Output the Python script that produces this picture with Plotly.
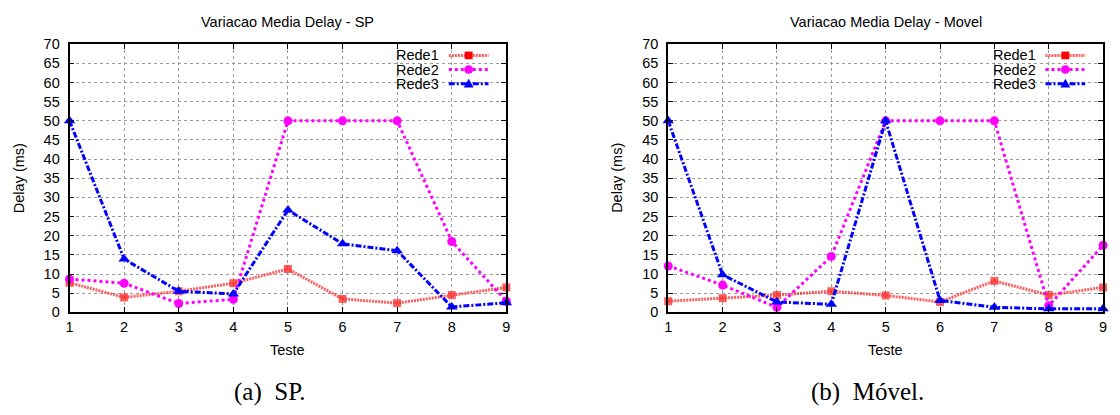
import plotly.graph_objects as go

# ---------------- data ----------------
teste = [1, 2, 3, 4, 5, 6, 7, 8, 9]

sp_rede1 = [7.7, 3.9, 5.5, 7.6, 11.3, 3.5, 2.4, 4.5, 6.5]
sp_rede2 = [8.7, 7.6, 2.3, 3.4, 50, 50, 50, 18.5, 2.9]
sp_rede3 = [50, 13.9, 5.5, 4.8, 26.7, 17.9, 16.1, 1.4, 2.5]

mov_rede1 = [2.9, 3.7, 4.5, 5.5, 4.4, 2.7, 8.2, 4.5, 6.5]
mov_rede2 = [12.1, 7.1, 1.3, 14.6, 50, 50, 50, 1.7, 17.5]
mov_rede3 = [50, 9.8, 2.7, 2.1, 50, 3.1, 1.3, 0.9, 0.9]

series_names = ["Rede1", "Rede2", "Rede3"]
y_ticks = list(range(0, 75, 5))
titles = ["Variacao Media Delay - SP", "Variacao Media Delay - Movel"]
captions = ["(a)\u00a0\u00a0SP.", "(b)\u00a0\u00a0Móvel."]

# ---------------- styling ----------------
W, H = 1120, 415
SANS = "Liberation Sans, Arial, Helvetica, sans-serif"
SERIF = "Liberation Serif, Times New Roman, serif"
FS = 14.5

styles = [
    dict(color="rgba(255,40,40,0.75)", dash="2px,1px", symbol="square", size=8),
    dict(color="#ff00ff", dash="3px,3px", symbol="circle", size=9),
    dict(color="#0000ff", dash="6px,2px,2px,2px", symbol="triangle-up", size=10),
]


def px(x):
    return x / W


def py(y):
    return 1 - y / H


plots = [
    dict(left=66, right=506, data=[sp_rede1, sp_rede2, sp_rede3]),
    dict(left=669, right=1107, data=[mov_rede1, mov_rede2, mov_rede3]),
]
TOP, BOTTOM = 37.7, 316.5

fig = go.Figure()
shapes = []
annotations = []

for i, p in enumerate(plots):
    xa = "x" if i == 0 else "x2"
    ya = "y" if i == 0 else "y2"
    for name, vals, st in zip(series_names, p["data"], styles):
        fig.add_trace(go.Scatter(
            x=teste, y=vals, name=name, mode="lines+markers",
            xaxis=xa, yaxis=ya, showlegend=False, cliponaxis=False,
            line=dict(color=st["color"], width=3, dash=st["dash"]),
            marker=dict(symbol=st["symbol"], size=st["size"],
                        color=st["color"], line=dict(width=0)),
        ))

    cx = (p["left"] + p["right"]) / 2
    # title
    annotations.append(dict(text=titles[i], x=px(cx), y=py(14.5), xref="paper", yref="paper",
                            showarrow=False, xanchor="center", yanchor="middle",
                            font=dict(family=SANS, size=FS, color="#000")))
    # x axis title
    annotations.append(dict(text="Teste", x=px(cx), y=py(356), xref="paper", yref="paper",
                            showarrow=False, xanchor="center", yanchor="middle",
                            font=dict(family=SANS, size=FS, color="#000")))
    # y axis title
    annotations.append(dict(text="Delay (ms)", x=px(p["left"] - 51), y=py((TOP + BOTTOM) / 2),
                            xref="paper", yref="paper", showarrow=False, textangle=-90,
                            xanchor="center", yanchor="middle",
                            font=dict(family=SANS, size=FS, color="#000")))
    # caption
    annotations.append(dict(text=captions[i], x=px(cx - 18), y=py(399), xref="paper", yref="paper",
                            showarrow=False, xanchor="center", yanchor="middle",
                            font=dict(family=SERIF, size=25, color="#000")))

    # legend (gnuplot style: text right aligned, sample on the right)
    R = p["right"]
    rows = [TOP + 11.6, TOP + 26.3, TOP + 41]
    for name, st, ry in zip(series_names, styles, rows):
        annotations.append(dict(text=name, x=px(R - 66), y=py(ry), xref="paper", yref="paper",
                                showarrow=False, xanchor="right", yanchor="middle",
                                font=dict(family=SANS, size=FS, color="#000")))
        shapes.append(dict(type="line", xref="paper", yref="paper",
                           x0=px(R - 58), x1=px(R - 18), y0=py(ry), y1=py(ry),
                           line=dict(color=st["color"], width=3, dash=st["dash"])))
        mx = R - 38
        if st["symbol"] == "square":
            shapes.append(dict(type="rect", xref="paper", yref="paper",
                               x0=px(mx - 4), x1=px(mx + 4), y0=py(ry - 4), y1=py(ry + 4),
                               fillcolor="#ff0000", line=dict(width=0)))
        elif st["symbol"] == "circle":
            shapes.append(dict(type="circle", xref="paper", yref="paper",
                               x0=px(mx - 4.5), x1=px(mx + 4.5), y0=py(ry - 4.5), y1=py(ry + 4.5),
                               fillcolor=st["color"], line=dict(width=0)))
        else:
            path = "M %f %f L %f %f L %f %f Z" % (px(mx - 5), py(ry + 4), px(mx + 5), py(ry + 4),
                                                 px(mx), py(ry - 5))
            shapes.append(dict(type="path", xref="paper", yref="paper", path=path,
                               fillcolor=st["color"], line=dict(width=0)))

axis_common = dict(
    showline=True, linecolor="#000", linewidth=1.8, mirror="ticks",
    ticks="inside", ticklen=5, tickwidth=1, tickcolor="#000",
    showgrid=True, gridcolor="#9a9a9a", gridwidth=1, griddash="dot",
    zeroline=False, tickfont=dict(family=SANS, size=FS, color="#000"),
    fixedrange=True,
)

ydom = [py(BOTTOM), py(TOP)]
fig.update_layout(
    width=W, height=H, autosize=False,
    margin=dict(l=0, r=0, t=0, b=0, pad=0),
    paper_bgcolor="white", plot_bgcolor="white",
    showlegend=False,
    xaxis=dict(domain=[px(66), px(506)], range=[1, 9], tickvals=teste, anchor="y", **axis_common),
    yaxis=dict(domain=ydom, range=[0, 70], tickvals=y_ticks, anchor="x", ticklabelstandoff=5, **axis_common),
    xaxis2=dict(domain=[px(669), px(1107)], range=[1, 9], tickvals=teste, anchor="y2", **axis_common),
    yaxis2=dict(domain=ydom, range=[0, 70], tickvals=y_ticks, anchor="x2", ticklabelstandoff=5, **axis_common),
    shapes=shapes,
    annotations=annotations,
)

fig.write_html(
    "out.html",
    config={"displayModeBar": False},
    post_script="document.body.style.margin='0';document.body.style.overflow='hidden';",
)
